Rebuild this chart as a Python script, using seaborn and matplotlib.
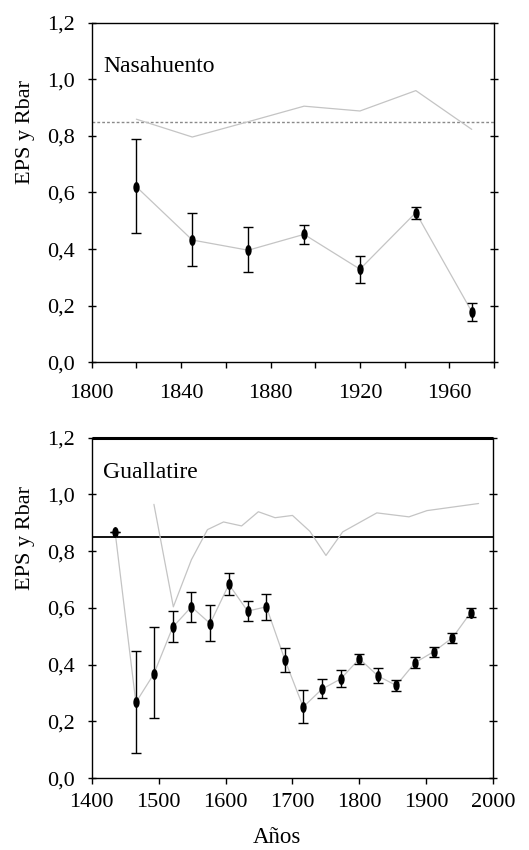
import matplotlib
matplotlib.use("Agg")
import matplotlib.pyplot as plt
from matplotlib.markers import MarkerStyle
from matplotlib.transforms import Affine2D
import seaborn as sns
import pandas as pd
import numpy as np

# ---------------- data ----------------
nas_years = [1820, 1845, 1870, 1895, 1920, 1945, 1970]
nas_rbar = [0.620, 0.432, 0.396, 0.452, 0.329, 0.529, 0.179]
nas_low = [0.456, 0.339, 0.318, 0.417, 0.279, 0.506, 0.145]
nas_high = [0.788, 0.527, 0.477, 0.485, 0.375, 0.548, 0.211]
nas_eps_years = [1820, 1845, 1870, 1895, 1920, 1945, 1970]
nas_eps = [0.859, 0.796, 0.850, 0.905, 0.888, 0.960, 0.823]

gua_years = [1435, 1466, 1493, 1521, 1549, 1577, 1605, 1633, 1661, 1689,
             1716, 1744, 1772, 1800, 1828, 1855, 1883, 1911, 1939, 1966]
gua_rbar = [0.868, 0.267, 0.368, 0.532, 0.604, 0.545, 0.683, 0.589, 0.604, 0.415,
            0.251, 0.314, 0.350, 0.421, 0.360, 0.327, 0.407, 0.446, 0.495, 0.583]
gua_low = [0.868, 0.088, 0.212, 0.480, 0.551, 0.484, 0.647, 0.554, 0.558, 0.374,
           0.196, 0.282, 0.323, 0.403, 0.335, 0.308, 0.389, 0.428, 0.477, 0.567]
gua_high = [0.868, 0.450, 0.532, 0.588, 0.655, 0.611, 0.722, 0.625, 0.648, 0.459,
            0.311, 0.348, 0.381, 0.439, 0.390, 0.347, 0.427, 0.462, 0.512, 0.600]
gua_eps_years = [1493, 1522, 1549, 1573, 1597, 1624, 1649, 1674, 1700, 1726,
                 1750, 1775, 1826, 1874, 1901, 1978]
gua_eps = [0.965, 0.604, 0.770, 0.876, 0.903, 0.889, 0.939, 0.918, 0.926, 0.870,
           0.785, 0.868, 0.935, 0.921, 0.943, 0.968]

eps_threshold = 0.85

site_names = ["Nasahuento", "Guallatire"]
y_ticks = [0.0, 0.2, 0.4, 0.6, 0.8, 1.0, 1.2]
y_ticklabels = ["0,0", "0,2", "0,4", "0,6", "0,8", "1,0", "1,2"]
top_xticks = [1800, 1820, 1840, 1860, 1880, 1900, 1920, 1940, 1960, 1980]
top_xticklabels = ["1800", "", "1840", "", "1880", "", "1920", "", "1960", ""]
bot_xticks = [1400, 1500, 1600, 1700, 1800, 1900, 2000]
bot_xticklabels = ["1400", "1500", "1600", "1700", "1800", "1900", "2000"]
y_label = "EPS y Rbar"
x_label = "Años"

# ---------------- style ----------------
sns.set_style("ticks")
plt.rcParams["font.family"] = ["Liberation Serif", "DejaVu Serif"]
plt.rcParams["text.color"] = "black"
plt.rcParams["axes.labelcolor"] = "black"

fig = plt.figure(figsize=(5.29, 8.5), dpi=100)
ax1 = fig.add_axes([0.1733, 0.5738, 0.7607, 0.3995])
ax2 = fig.add_axes([0.1733, 0.0844, 0.7592, 0.4007])

ell = MarkerStyle("o", transform=Affine2D().scale(0.58, 1.0))
grey = "#c4c4c4"


def panel(ax, years, rbar, low, high, eps_years, eps, name, xlim, xticks, xtl,
          hline_style, top_lw, xpad, text_xy, ylabel_y):
    df = pd.DataFrame({"year": years, "rbar": rbar})
    de = pd.DataFrame({"year": eps_years, "eps": eps})
    sns.lineplot(data=de, x="year", y="eps", ax=ax, color=grey, lw=0.9,
                 estimator=None, sort=False, zorder=2)
    sns.lineplot(data=df, x="year", y="rbar", ax=ax, color=grey, lw=0.9,
                 estimator=None, sort=False, zorder=2)
    yerr = np.array([np.array(rbar) - np.array(low), np.array(high) - np.array(rbar)])
    ax.errorbar(years, rbar, yerr=yerr, fmt="none", ecolor="black", elinewidth=1.0,
                capsize=3.5, capthick=1.0, zorder=3)
    sns.scatterplot(data=df, x="year", y="rbar", ax=ax, marker=ell, s=62,
                    color="black", edgecolor="black", linewidth=0, zorder=4)
    ax.axhline(eps_threshold, **hline_style)
    ax.set_xlim(*xlim)
    ax.set_ylim(0, 1.2)
    ax.set_yticks(y_ticks)
    ax.set_yticklabels(y_ticklabels)
    ax.set_xticks(xticks)
    ax.set_xticklabels(xtl)
    ax.tick_params(axis="y", which="both", left=True, right=True, direction="inout",
                   length=6, width=1, labelsize=16, pad=9, colors="black")
    ax.tick_params(axis="x", which="both", bottom=True, top=False, direction="out",
                   length=4, width=1, labelsize=16, pad=xpad, colors="black")
    for side in ["left", "right", "bottom"]:
        ax.spines[side].set_visible(True)
        ax.spines[side].set_linewidth(1.0)
        ax.spines[side].set_color("black")
    ax.spines["top"].set_visible(True)
    ax.spines["top"].set_linewidth(top_lw)
    ax.spines["top"].set_color("black")
    ax.spines["top"].set_capstyle("butt")
    ax.set_xlabel("")
    ax.set_ylabel(y_label, fontsize=16, color="black")
    ax.yaxis.set_label_coords(-0.141, ylabel_y)
    ax.text(text_xy[0], text_xy[1], name, transform=ax.transAxes, fontsize=17,
            va="baseline", ha="left", color="black")


panel(ax1, nas_years, nas_rbar, nas_low, nas_high, nas_eps_years, nas_eps,
      site_names[0], (1800, 1980), top_xticks, top_xticklabels,
      dict(color="#8a8a8a", lw=1.0, ls=(0, (2, 1.5)), zorder=1), 1.0, 12,
      (0.028, 0.855), 0.678)
panel(ax2, gua_years, gua_rbar, gua_low, gua_high, gua_eps_years, gua_eps,
      site_names[1], (1400, 2000), bot_xticks, bot_xticklabels,
      dict(color="black", lw=1.3, ls="-", zorder=1), 2.2, 6.5,
      (0.027, 0.882), 0.705)

ax2.set_xlabel(x_label, fontsize=16.5, color="black")
ax2.xaxis.set_label_coords(0.461, -0.142)

fig.savefig("out.png", dpi=100)
